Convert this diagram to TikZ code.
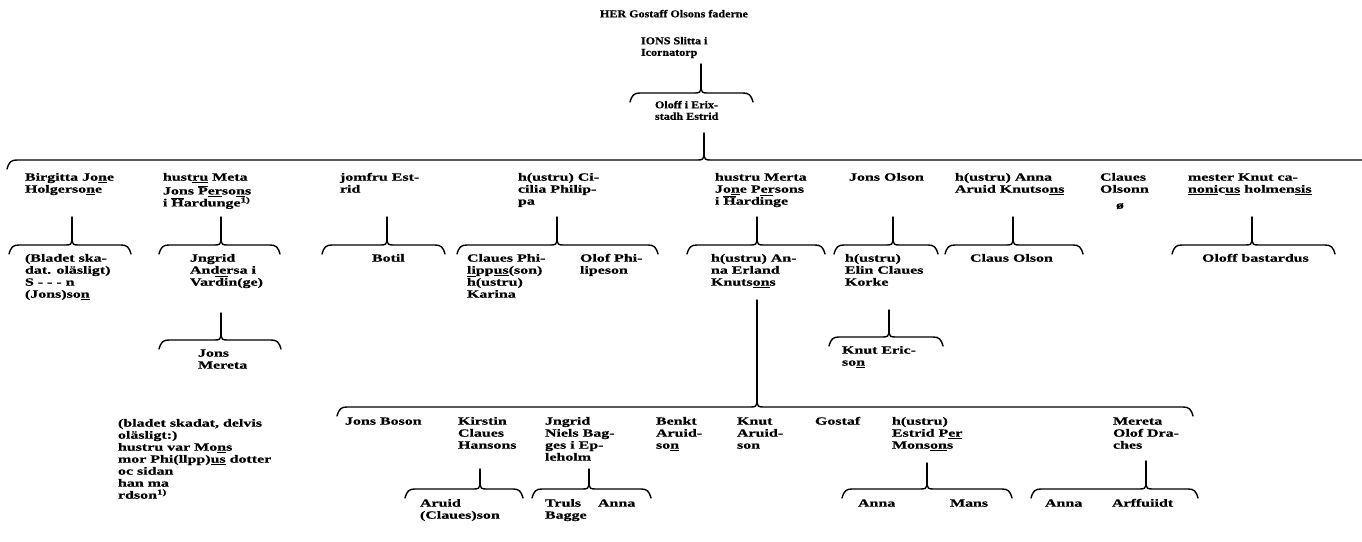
\documentclass[tikz,border=0pt]{standalone}
\usepackage{fontspec}
\setmainfont{Liberation Serif}[FakeStretch=1.45,FakeBold=0.6]
\newfontfamily\topfont{Liberation Serif}[FakeStretch=1.15,FakeBold=0.6]
\newcommand\ovl[1]{\ensuremath{\overline{\hbox{#1}}}}
% brace: #1 left x, #2 stem x, #3 right x, #4 brace y, #5 stem top y, #6 name
\newcommand\brc[6]{%
  \coordinate (#6t) at (#2,#5);
  \coordinate (#6j) at (#2,{#4-4});
  \draw[br] ({#1-3},{#4+9}) .. controls ({#1-1},{#4+2}) and ({#1+1},{#4}) .. ({#1+7},{#4})
    -- ({#2-6},{#4}) .. controls ({#2-2},{#4}) and (#2,{#4-1}) .. (#6j)
    .. controls (#2,{#4-1}) and ({#2+2},{#4}) .. ({#2+6},{#4})
    -- ({#3-7},{#4}) .. controls ({#3-1},{#4}) and ({#3+1},{#4+2}) .. ({#3+3},{#4+9});
  \draw[br] (#6j) -- (#6t);}
\begin{document}
\begin{tikzpicture}[x=1pt,y=-1pt,
  br/.style={line width=1.4pt, line cap=round, line join=round},
  txt/.style={anchor=north west, inner sep=0pt, outer sep=0pt, align=left, yshift=4.75pt,
    font=\fontsize{11}{12}\selectfont\bfseries},
  toptxt/.style={txt, font=\topfont\fontsize{10.5}{11.5}\selectfont\bfseries}]
\fill[white] (0,0) rectangle (1362,541);
\useasboundingbox (0,0) rectangle (1362,541);

% top
\node[toptxt] (t0) at (600,14) {\strut HER Gostaff Olsons faderne};
\node[toptxt] (t1) at (641,41) {\strut IONS Slitta i\\Icornatorp};
\brc{633}{701}{750}{93}{64}{b0}
\node[toptxt] (t2) at (655,105) {\strut Oloff i Erix-\\stadh Estrid};

% main brace
\coordinate (mt) at (704,133);
\coordinate (mj) at (704,156);
\draw[br] (7,169) .. controls (9,162) and (11,160) .. (17,160) -- (698,160)
  .. controls (702,160) and (704,159) .. (mj)
  .. controls (704,159) and (706,160) .. (710,160) -- (1362,160);
\draw[br] (mj) -- (mt);

% generation 2
\node[txt] (g1) at (25,177) {\strut Birgitta Jo\underline{n}e\\Holgerso\underline{n}e};
\node[txt] (g2) at (163,177) {\strut hust\underline{ru} Meta\\Jons \ovl{P}\underline{er}so\underline{n}s\\i \ovl{H}ardunge\textsuperscript{1)}};
\node[txt] (g3) at (340,177) {\strut jomfru Est-\\rid};
\node[txt] (g4) at (518,177) {\strut h(ustru) Ci-\\cilia Philip-\\pa};
\node[txt] (g5) at (715,177) {\strut hustru Merta\\Jo\underline{n}e Persons\\i \ovl{H}ard\ovl{in}ge};
\node[txt] (g6) at (849,177) {\strut Jons Olson};
\node[txt] (g7) at (955,177) {\strut h(ustru) Anna\\Aruid Knutso\underline{ns}};
\node[txt] (g8) at (1100,177) {\strut Claues\\Olsonn};
\node[txt] (g9) at (1188,177) {\strut mester Knut ca-\\\underline{noni}c\underline{us} holmen\underline{sis}};

% braces gen 2 -> 3
\brc{12}{72}{128}{245}{217}{b1}
\brc{162}{221}{277}{245}{217}{b2}
\brc{325}{387}{442}{245}{217}{b3}
\brc{460}{557}{655}{245}{217}{b4}
\brc{690}{757}{822}{245}{217}{b5}
\brc{837}{893}{935}{245}{217}{b6}
\brc{948}{1013}{1080}{245}{217}{b7}
\brc{1175}{1252}{1332}{245}{217}{b9}

% generation 3
\node[txt] (c1) at (25,258) {\strut (Bladet ska-\\dat. oläsligt)\\S - - - n\\(Jons)so\underline{n}};
\node[txt] (c2) at (190,258) {\strut Jngrid\\Andersa i\\Var\ovl{di}n(ge)};
\node[txt] (c3) at (372,258) {\strut Botil};
\node[txt] (c4a) at (467,258) {\strut Claues Phi-\\lipp\underline{us}(son)\\\ovl{h}(ustru)\\Karina};
\node[txt] (c4b) at (580,258) {\strut Olof Phi-\\lipeson};
\node[txt] (c5) at (711,258) {\strut h(ustru) An-\\na Erland\\Knuts\underline{on}s};
\node[txt] (c6) at (845,258) {\strut h(ustru)\\Elin Claues\\Korke};
\node[txt] (c7) at (970,258) {\strut Claus Olson};
\node[txt] (c8) at (1116,205) {\strut ø};
\node[txt] (c9) at (1202,258) {\strut Oloff bastardus};

% generation 3 -> 4
\brc{162}{221}{278}{340}{313}{b21}
\node[txt] (h1) at (198,353) {\strut Jons\\Mereta};
\brc{832}{889}{940}{337}{310}{b61}
\node[txt] (h2) at (842,350) {\strut Knut Eric-\\so\underline{n}};

% note
\node[txt] (nt) at (118,423) {\strut (bladet skadat, delvis\\oläsligt:)\\hustru var Mo\underline{n}s\\mor Phi(llpp)\underline{us} dotter\\oc sidan\\han ma\\rdson\textsuperscript{1)}};

% bottom brace
\brc{340}{757}{1190}{407}{300}{b10}

\node[txt] (d1) at (345,421) {\strut Jons Boson};
\node[txt] (d2) at (458,421) {\strut Kirstin\\Claues\\Hansons};
\node[txt] (d3) at (545,421) {\strut Jngrid\\Niels Bag-\\ges i Ep-\\leholm};
\node[txt] (d4) at (656,421) {\strut Benkt\\Aruid-\\so\underline{n}};
\node[txt] (d5) at (737,421) {\strut Knut\\Aruid-\\son};
\node[txt] (d6) at (815,421) {\strut Gostaf};
\node[txt] (d7) at (892,421) {\strut h(ustru)\\Estrid P\underline{er}\\Mons\underline{on}s};
\node[txt] (d8) at (1113,421) {\strut Mereta\\Olof Dra-\\ches};

\brc{408}{480}{520}{489}{469}{b11}
\brc{535}{589}{648}{489}{469}{b12}
\brc{845}{927}{1009}{489}{463}{b13}
\brc{1034}{1146}{1195}{489}{461}{b14}

\node[txt] (e1) at (420,503) {\strut Aruid\\(Claues)son};
\node[txt] (e2) at (545,503) {\strut Truls\\Bagge};
\node[txt] (e3) at (598,503) {\strut Anna};
\node[txt] (e4) at (858,503) {\strut Anna};
\node[txt] (e5) at (950,503) {\strut Mans};
\node[txt] (e6) at (1045,503) {\strut Anna};
\node[txt] (e7) at (1112,503) {\strut Arffuiidt};
\end{tikzpicture}
\end{document}
